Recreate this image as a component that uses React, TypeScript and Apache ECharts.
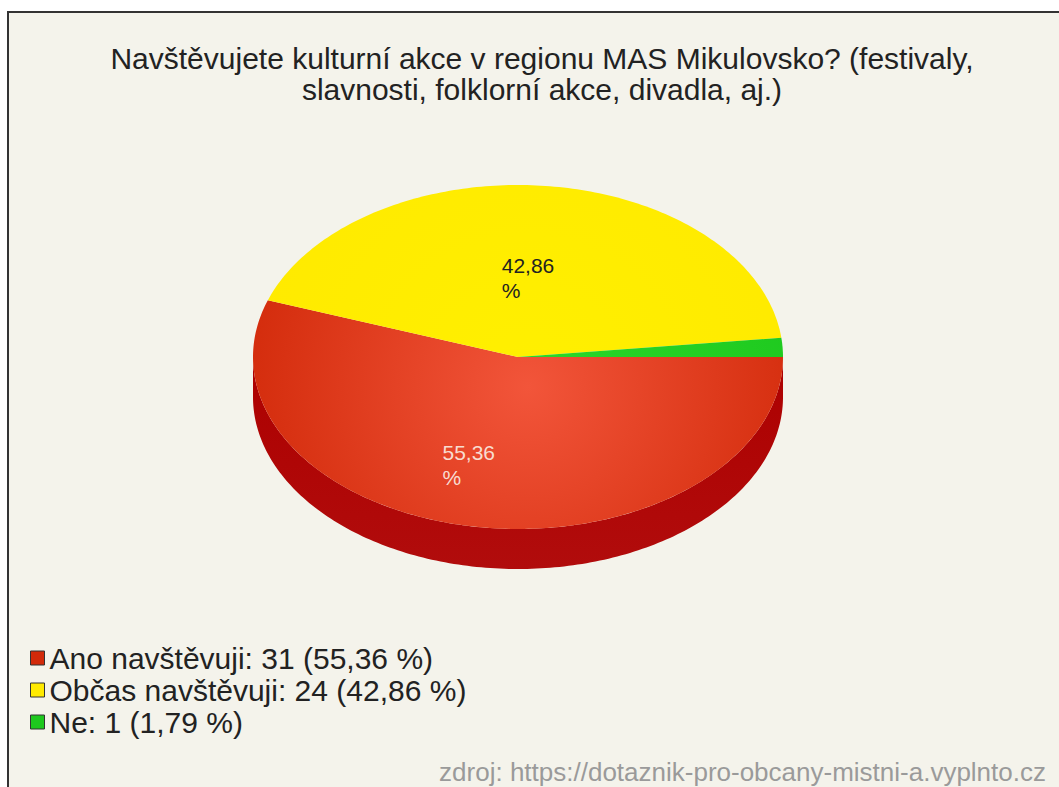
import React, { useEffect, useRef } from "react";
import * as echarts from "echarts";

const titleText =
  "Navštěvujete kulturní akce v regionu MAS Mikulovsko? (festivaly,\nslavnosti, folklorní akce, divadla, aj.)";
const categories = ["Ano navštěvuji", "Občas navštěvuji", "Ne"];
const counts = [31, 24, 1];
const percentLabels = ["55,36", "42,86", "1,79"];
const topColors = ["#d22a0a", "#ffea00", "#1ec81e"];
const topCenterColors = ["#f2553a", "#fff000", "#2ad82a"];
const sideColors = ["#ad0000", "#c9b600", "#12920f"];
const labelColors = ["#f8dcd0", "#222222", "#222222"];
const sourceText = "zdroj: https://dotaznik-pro-obcany-mistni-a.vyplnto.cz";

const CX = 518;
const CY = 357;
const RX = 265;
const RY = 172;
const DEPTH = 40;

const total = counts.reduce((a, b) => a + b, 0);

function pt(deg: number, dy = 0): number[] {
  const r = (deg * Math.PI) / 180;
  return [CX + RX * Math.cos(r), CY - RY * Math.sin(r) + dy];
}

function sliceAngles(idx: number) {
  let before = 0;
  for (let i = 0; i < idx; i++) before += counts[i];
  const s = (-before / total) * 360;
  const e = (-(before + counts[idx]) / total) * 360;
  return { s, e };
}

function arcPoints(a: number, b: number, dy = 0): number[][] {
  const pts: number[][] = [];
  const n = Math.max(2, Math.ceil(Math.abs(a - b) / 1));
  for (let k = 0; k <= n; k++) pts.push(pt(a + ((b - a) * k) / n, dy));
  return pts;
}

const FONT = "Liberation Sans, Arial, sans-serif";

export default function App() {
  const ref = useRef<HTMLDivElement>(null);
  useEffect(() => {
    document.body.style.margin = "0";
    const chart = echarts.init(ref.current!, null, { renderer: "svg" });

    const sideSeries = {
      type: "custom",
      name: "__side",
      coordinateSystem: "none",
      z: 1,
      silent: true,
      data: counts.map((v) => [v]),
      renderItem: (params: any, api: any) => {
        const idx = params.dataIndex;
        const { s, e } = sliceAngles(idx);
        const a = Math.min(s, 0);
        const b = Math.max(e, -180);
        if (a <= b) return { type: "group", children: [] };
        const top = arcPoints(a, b, 0);
        const bot = arcPoints(b, a, DEPTH);
        return {
          type: "polygon",
          shape: { points: top.concat(bot) },
          style: {
            fill: new echarts.graphic.LinearGradient(0, 0, 0, 1, [
              { offset: 0, color: sideColors[idx] },
              { offset: 1, color: echarts.color.lift(sideColors[idx], 0.05) },
            ]),
          },
        };
      },
    };

    const topSeries = categories.map((name, idx) => ({
      type: "custom",
      name,
      coordinateSystem: "none",
      z: 2,
      itemStyle: { color: topColors[idx] },
      data: [[counts[idx]]],
      renderItem: (params: any, api: any) => {
        const { s, e } = sliceAngles(idx);
        const pts = [[CX, CY]].concat(arcPoints(s, e, 0));
        const children: any[] = [
          {
            type: "polygon",
            shape: { points: pts },
            style: {
              fill: new echarts.graphic.RadialGradient(
                CX + 10,
                CY + 30,
                300,
                [
                  { offset: 0, color: topCenterColors[idx] },
                  { offset: 1, color: topColors[idx] },
                ],
                true
              ),
            },
          },
        ];
        const v = api.value(0);
        if (v / total > 0.05) {
          const mid = (s + e) / 2;
          const r = (mid * Math.PI) / 180;
          const lx = CX + RX * 0.8 * Math.cos(r) - 40;
          const ly = CY - RY * 0.55 * Math.sin(r);
          children.push({
            type: "text",
            x: lx,
            y: ly - 10,
            style: {
              text: percentLabels[idx] + "\n%",
              fill: labelColors[idx],
              fontSize: 21,
              lineHeight: 25,
              fontFamily: FONT,
              align: "left",
              verticalAlign: "top",
            },
          });
        }
        return { type: "group", children };
      },
    }));

    chart.setOption({
      animation: false,
      backgroundColor: "#ffffff",
      title: {
        text: titleText,
        left: 537,
        top: 38,
        textAlign: "center",
        textStyle: {
          fontSize: 30,
          fontWeight: "normal",
          lineHeight: 31,
          color: "#222",
          fontFamily: FONT,
        },
      },
      legend: {
        data: categories,
        orient: "vertical",
        left: 25,
        top: 638,
        icon: "rect",
        itemWidth: 14,
        itemHeight: 14,
        itemGap: 2,
        itemStyle: { borderColor: "#333", borderWidth: 1 },
        formatter: (name: string) => {
          const i = categories.indexOf(name);
          return `${name}: ${counts[i]} (${percentLabels[i]} %)`;
        },
        textStyle: {
          fontSize: 30,
          lineHeight: 30,
          color: "#222",
          fontFamily: FONT,
        },
      },
      graphic: [
        {
          type: "rect",
          z: -10,
          shape: { x: 8, y: 12, width: 1100, height: 820 },
          style: { fill: "#f4f3eb", stroke: "#333", lineWidth: 2 },
        },
        {
          type: "text",
          x: 1046,
          y: 772,
          style: {
            text: sourceText,
            fill: "#9a9a9a",
            fontSize: 26,
            fontFamily: FONT,
            align: "right",
            verticalAlign: "middle",
          },
        },
      ],
      series: [sideSeries, ...topSeries],
    } as any);

    return () => chart.dispose();
  }, []);
  return <div ref={ref} style={{ width: 1059, height: 787 }} />;
}
